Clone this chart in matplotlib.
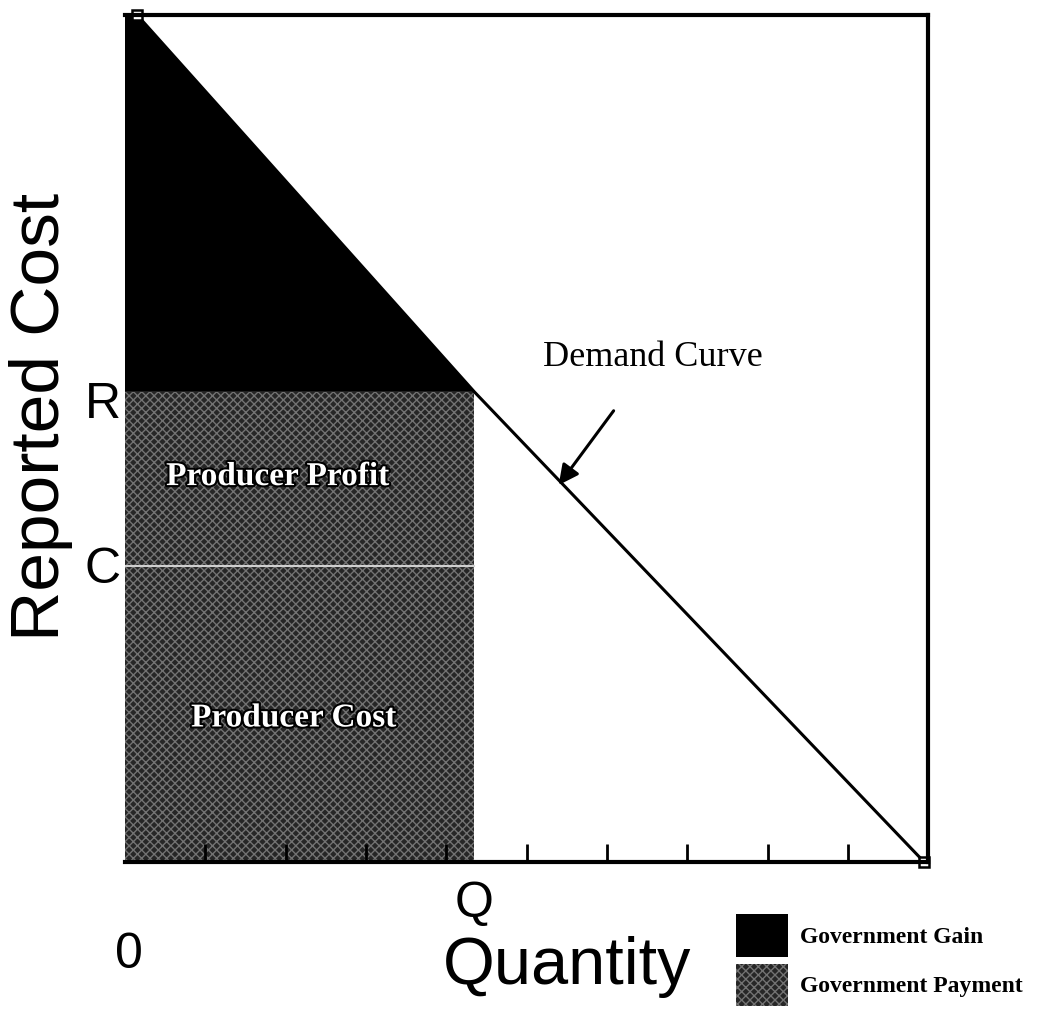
import matplotlib
matplotlib.use("Agg")
import matplotlib.pyplot as plt
import matplotlib.patheffects as pe
from matplotlib.patches import Patch

# market levels
Q = 4.35         # quantity bought
R = 5.55         # reported cost (price paid)
C = 3.5          # true producer cost

# demand curve points (quantity, reported cost)
demand_q = [0.15, Q, 9.95]
demand_p = [10.0, R, 0.0]

x_ticks = [1, 2, 3, 4, 5, 6, 7, 8, 9]
region_labels = ["Producer Profit", "Producer Cost"]
legend_labels = ["Government Gain", "Government Payment"]

plt.rcParams['hatch.linewidth'] = 1.0

fig = plt.figure(figsize=(10.39, 10.23), dpi=100)
ax = fig.add_axes([0.1203, 0.1574, 0.773, 0.828])
ax.set_xlim(0, 10)
ax.set_ylim(0, 10)

shade = dict(facecolor='#262626', hatch='xxxx', edgecolor='#727272', linewidth=0)

# government gain: triangle under the demand curve above R
ax.fill([0, demand_q[0], Q, 0], [demand_p[0], demand_p[0], R, R], color='black', linewidth=0)

# government payment: producer profit + producer cost
ax.fill_between([0, Q], C, R, **shade)
ax.fill_between([0, Q], 0, C, **shade)
ax.plot([0, Q], [C, C], color='#d0d0d0', linewidth=1.5)

# demand curve
ax.plot(demand_q, demand_p, color='black', linewidth=2.2, clip_on=False)
ax.plot([demand_q[0], demand_q[-1]], [demand_p[0], demand_p[-1]], linestyle='none',
        marker='s', markersize=7, markerfacecolor='white', markeredgecolor='black',
        markeredgewidth=1.8, clip_on=False)

outline = [pe.withStroke(linewidth=3, foreground='black')]
ax.text(1.9, 4.55, region_labels[0], color='white',
        family='Liberation Serif', fontweight='bold', fontsize=24,
        ha='center', va='center', path_effects=outline)
ax.text(2.1, 1.7, region_labels[1], color='white',
        family='Liberation Serif', fontweight='bold', fontsize=24,
        ha='center', va='center', path_effects=outline)

ax.annotate("Demand Curve", xy=(5.4, 4.45), xytext=(6.57, 5.95),
            family='Liberation Serif', fontsize=26, ha='center', va='center',
            arrowprops=dict(arrowstyle='-|>', color='black', lw=2.2,
                            mutation_scale=30, shrinkA=30, shrinkB=0))

for s in ['top', 'right', 'bottom']:
    ax.spines[s].set_linewidth(3)
ax.spines['left'].set_visible(False)

ax.set_xticks(x_ticks)
ax.set_xticklabels([])
ax.set_yticks([])
ax.tick_params(axis='x', direction='in', length=13, width=2)

sans = 'Liberation Sans'
ax.text(-0.28, R - 0.15, "R", family=sans, fontsize=36, ha='center', va='center')
ax.text(-0.28, C - 0.05, "C", family=sans, fontsize=36, ha='center', va='center')
ax.text(0.05, -1.1, "0", family=sans, fontsize=36, ha='center', va='center')
ax.text(Q, -0.5, "Q", family=sans, fontsize=36, ha='center', va='center')
ax.text(5.5, -1.24, "Quantity", family=sans, fontsize=48, ha='center', va='center')
ax.text(-1.05, 5.25, "Reported Cost", family=sans, fontsize=50, rotation=90,
        ha='center', va='center')

handles = [Patch(facecolor='black', edgecolor='black', linewidth=0),
           Patch(**shade)]
fig.legend(handles, legend_labels, loc='lower right', bbox_to_anchor=(1.0, 0.0),
           frameon=False, prop=dict(family='Liberation Serif', weight='bold', size=17),
           handlelength=2.2, handleheight=2.4, handletextpad=0.5, labelspacing=0.3,
           borderaxespad=0.3)

fig.savefig("out.png", dpi=100)
